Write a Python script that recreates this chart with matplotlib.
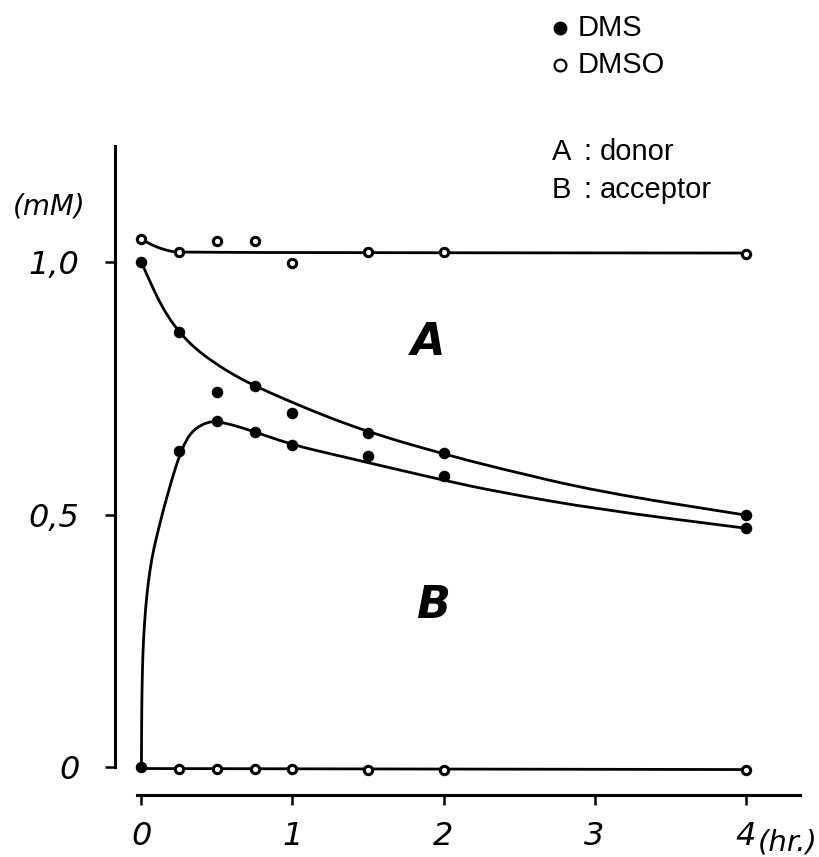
import matplotlib
matplotlib.use('Agg')
import matplotlib.pyplot as plt
from matplotlib.path import Path
from matplotlib.patches import PathPatch

# sampling times (hr)
t = [0, 0.25, 0.5, 0.75, 1, 1.5, 2, 4]
t_low = [0.25, 0.5, 0.75, 1, 1.5, 2, 4]

# measured points (mM)
dmso_donor = [1.045, 1.02, 1.042, 1.042, 0.998, 1.02, 1.02, 1.017]
dms_donor = [1.0, 0.862, 0.742, 0.755, 0.701, 0.661, 0.621, 0.499]
dms_acceptor = [0.0, 0.626, 0.685, 0.664, 0.638, 0.617, 0.577, 0.473]
dmso_acceptor = [-0.003, -0.004, -0.004, -0.004, -0.005, -0.005, -0.005]

# hand drawn fit lines
line_t_top = [0, 0.05, 0.1, 0.15, 0.2, 0.25, 4.0]
line_top = [1.045, 1.037, 1.03, 1.025, 1.021, 1.019, 1.018]

line_t_a = [0, 0.02, 0.05, 0.113, 0.18, 0.25, 0.35, 0.49, 0.62, 0.75, 0.9,
            1.04, 1.26, 1.57, 2.0, 2.36, 3.03, 4.0]
line_a = [1.0, 0.986, 0.966, 0.925, 0.89, 0.862, 0.83, 0.799, 0.775, 0.755,
          0.735, 0.717, 0.69, 0.657, 0.62, 0.592, 0.545, 0.499]

line_t_b = [0, 0.001, 0.004, 0.01, 0.02, 0.035, 0.056, 0.08, 0.111, 0.15,
            0.2, 0.25, 0.3, 0.34, 0.377, 0.43, 0.49, 0.6, 0.75, 1.0, 1.3,
            1.57, 2.0, 2.36, 3.03, 4.0]
line_b = [0, 0.08, 0.16, 0.23, 0.285, 0.34, 0.39, 0.43, 0.469, 0.515, 0.568,
          0.616, 0.65, 0.665, 0.674, 0.682, 0.685, 0.678, 0.664, 0.638, 0.617,
          0.598, 0.568, 0.545, 0.51, 0.473]

line_t_bot = [0, 4.0]
line_bot = [-0.003, -0.005]

xticks = [0, 1, 2, 3, 4]
yticks = [0, 0.5, 1.0]
ytick_labels = ['0', '0,5', '1,0']


def smooth_line(ax, xs, ys, lw):
    # quadratic bezier through midpoints, the read points act as controls
    verts = [(xs[0], ys[0])]
    codes = [Path.MOVETO]
    for i in range(1, len(xs) - 1):
        mid = ((xs[i] + xs[i + 1]) / 2, (ys[i] + ys[i + 1]) / 2)
        verts += [(xs[i], ys[i]), mid]
        codes += [Path.CURVE3, Path.CURVE3]
    verts.append((xs[-1], ys[-1]))
    codes.append(Path.LINETO)
    ax.add_patch(PathPatch(Path(verts, codes), fill=False, edgecolor='black',
                           lw=lw, capstyle='round', joinstyle='round'))


W, H = 820, 857
fig = plt.figure(figsize=(W / 100, H / 100), dpi=100)
ax = fig.add_axes([115 / W, 62 / H, 685 / W, 649 / H])
ax.set_xlim(-0.175, 4.36)
ax.set_ylim(-0.0554, 1.23)

lw = 2.0
smooth_line(ax, line_t_top, line_top, lw)
smooth_line(ax, line_t_a, line_a, lw)
smooth_line(ax, line_t_b, line_b, lw)
smooth_line(ax, line_t_bot, line_bot, lw)

ax.plot(t, dms_donor, 'o', color='black', ms=8.3, mew=0, clip_on=False)
ax.plot(t, dms_acceptor, 'o', color='black', ms=8.3, mew=0, clip_on=False)
ax.plot(t, dmso_donor, 'o', mfc='white', mec='black', ms=6, mew=2.2,
        clip_on=False)
ax.plot(t_low, dmso_acceptor, 'o', mfc='white', mec='black', ms=6, mew=2.2,
        clip_on=False)

for s in ['top', 'right']:
    ax.spines[s].set_visible(False)
ax.spines['left'].set_linewidth(2.2)
ax.spines['bottom'].set_linewidth(2.2)
ax.spines['left'].set_bounds(0, 1.23)
ax.spines['bottom'].set_bounds(-0.03, 4.36)

tick_font = dict(family='DejaVu Sans', style='italic', size=23)
ax.set_xticks(xticks)
ax.set_xticklabels([str(v) for v in xticks], fontdict=tick_font)
ax.set_yticks(yticks)
ax.set_yticklabels(ytick_labels, fontdict=tick_font)
ax.tick_params(axis='both', direction='out', length=7.5, width=1.8)
ax.tick_params(axis='y', pad=18)
ax.tick_params(axis='x', pad=11)

# axis unit labels
fig.text(49 / W, 1 - 207 / H, '(mM)', ha='center', va='center',
         family='DejaVu Sans', style='italic', size=20)
fig.text(758 / W, 1 - 851 / H, '(hr.)', ha='left', va='baseline',
         family='DejaVu Sans', style='italic', size=21)

# region letters
ax.text(1.9, 0.84, 'A', ha='center', va='center', family='DejaVu Sans',
        style='italic', weight='bold', size=32)
ax.text(1.93, 0.32, 'B', ha='center', va='center', family='DejaVu Sans',
        style='italic', weight='bold', size=32)

# key in the upper right
ax.plot([560 / W], [1 - 28 / H], 'o', color='black', ms=10, mew=0,
        transform=fig.transFigure, clip_on=False)
ax.plot([560 / W], [1 - 65 / H], 'o', mfc='white', mec='black', ms=8.5,
        mew=1.6, transform=fig.transFigure, clip_on=False)
key_font = dict(family='Liberation Sans', size=21)
fig.text(578 / W, 1 - 28 / H, 'DMS', ha='left', va='center', **key_font)
fig.text(578 / W, 1 - 65 / H, 'DMSO', ha='left', va='center', **key_font)
fig.text(552 / W, 1 - 152 / H, 'A', ha='left', va='center', **key_font)
fig.text(583 / W, 1 - 152 / H, ':', ha='left', va='center', **key_font)
fig.text(600 / W, 1 - 152 / H, 'donor', ha='left', va='center', **key_font)
fig.text(552 / W, 1 - 190 / H, 'B', ha='left', va='center', **key_font)
fig.text(583 / W, 1 - 190 / H, ':', ha='left', va='center', **key_font)
fig.text(600 / W, 1 - 190 / H, 'acceptor', ha='left', va='center', **key_font)

fig.savefig('out.png', dpi=100)
